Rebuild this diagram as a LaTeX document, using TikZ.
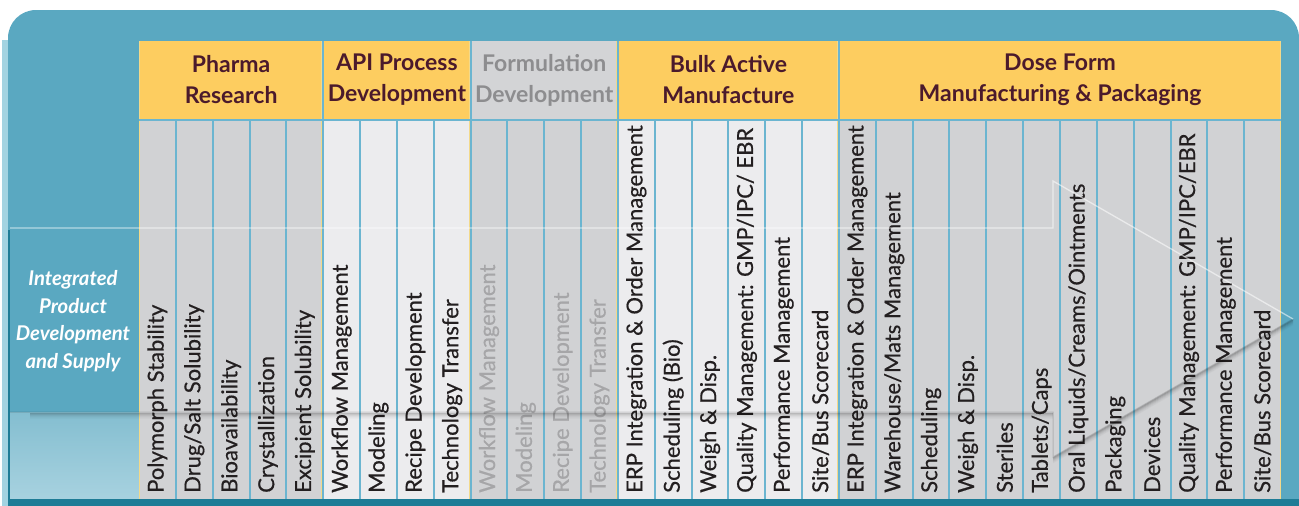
\documentclass[tikz,border=0pt]{standalone}
\usepackage{fontspec}
\setmainfont{Lato}
\newfontfamily\colfont[FakeBold=0.5]{Lato}
\definecolor{bgblue}{HTML}{5AA8C1}
\definecolor{darkteal}{HTML}{1E7C96}
\definecolor{lightstrip}{HTML}{A3D3E1}
\definecolor{hdryellow}{HTML}{FDCD60}
\definecolor{hdrtext}{HTML}{4B1A2C}
\definecolor{colgray}{HTML}{D1D2D4}
\definecolor{collight}{HTML}{ECECEE}
\definecolor{divblue}{HTML}{6BB5D0}
\definecolor{gridyellow}{HTML}{F3D98A}
\definecolor{formhdr}{HTML}{D3D4D6}
\definecolor{formhtext}{HTML}{8D8D8F}
\definecolor{formtext}{HTML}{A6A6A8}
\definecolor{coltext}{HTML}{231F20}
\definecolor{lowtop}{HTML}{7FBBCE}
\definecolor{lowbot}{HTML}{B9DCE7}
\definecolor{shadowc}{HTML}{4F8699}
\pgfdeclareverticalshading{lowleft}{100bp}{color(0bp)=(lowbot); color(82bp)=(lowtop); color(96bp)=(shadowc); color(100bp)=(shadowc)}
\begin{document}
\begin{tikzpicture}[x=1pt,y=-1pt,
  hdrlabel/.style={align=center, text=hdrtext, font=\fontsize{23}{31}\selectfont\bfseries, inner sep=0pt},
  collabel/.style={rotate=90, anchor=west, inner sep=0pt, font=\colfont\fontsize{22}{24}\selectfont},
  divline/.style={divblue, line width=2pt},
  grpline/.style={gridyellow, line width=1pt}]
\useasboundingbox (0,0) rectangle (1299,506);
% background panel
\fill[lightstrip] (2,40) rectangle (10,506);
\fill[bgblue] (8,506) -- (8,38) arc[start angle=180, end angle=270, radius=28] -- (1271,10) arc[start angle=270, end angle=360, radius=28] -- (1299,506) -- cycle;
\shade[shading=lowleft] (10,412) rectangle (139,499);
\fill[darkteal] (8,499) rectangle (1299,506);
\draw[darkteal, line width=2pt] (9,230) -- (9,506);
% column group fills
\fill[colgray]  (139,120) rectangle (323.2,499);
\fill[collight] (323.2,120) rectangle (470.56,499);
\fill[colgray]  (470.56,120) rectangle (617.92,499);
\fill[collight] (617.92,120) rectangle (838.96,499);
\fill[colgray]  (838.96,120) rectangle (1281.04,499);
% headers
\fill[hdryellow] (139,41) rectangle (1281.04,120);
\fill[formhdr] (470.56,41) rectangle (617.92,120);
% column dividers
\foreach \k in {1,...,30}{
  \draw[divline] ({139+36.84*\k},120) -- ({139+36.84*\k},499);
}
\foreach \gx in {323.2,470.56,617.92,838.96}{
  \draw[divline] (\gx,41) -- (\gx,120);
  \draw[grpline] (\gx-1.5,41) -- (\gx-1.5,499);
}
\draw[grpline] (139.5,41) -- (139.5,499);
\draw[grpline] (1280.5,41) -- (1280.5,499);
\draw[divline] (139,120) -- (1281.04,120);
% header labels
\node[hdrlabel] (h1) at (231.1,80) {Pharma\\Research};
\node[hdrlabel] (h2) at (396.9,80) {API Process\\Development};
\node[hdrlabel, text=formhtext] (h3) at (544.2,80) {Formulation\\Development};
\node[hdrlabel] (h4) at (728.4,80) {Bulk Active\\Manufacture};
\node[hdrlabel] (h5) at (1060,80) {Dose Form\\Manufacturing \& Packaging};
% column labels
\foreach \t [count=\i from 0] in {
  {Polymorph Stability},{Drug/Salt Solubility},{Bioavailability},{Crystallization},{Excipient Solubility},
  {Workflow Management},{Modeling},{Recipe Development},{Technology Transfer},
  {Workflow Management},{Modeling},{Recipe Development},{Technology Transfer},
  {ERP Integration \& Order Management},{Scheduling (Bio)},{Weigh \& Disp.},{Quality Management: GMP/IPC/ EBR},{Performance Management},{Site/Bus Scorecard},
  {ERP Integration \& Order Management},{Warehouse/Mats Management},{Scheduling},{Weigh \& Disp.},{Steriles},{Tablets/Caps},{Oral Liquids/Creams/Ointments},{Packaging},{Devices},{Quality Management: GMP/IPC/EBR},{Performance Management},{Site/Bus Scorecard}}{
  \pgfmathsetmacro{\cx}{157.42+36.84*\i}
  \ifnum\i>8 \ifnum\i<13 \def\tc{formtext}\else\def\tc{coltext}\fi\else\def\tc{coltext}\fi
  \node[collabel, text=\tc] (c\i) at (\cx,493) {\t};
}
% side label
\node[align=center, text=white, inner sep=0pt, font=\fontsize{20.3}{27.5}\selectfont\bfseries\itshape] (side) at (73,321) {Integrated\\Product\\Development\\and Supply};
% arrow overlay
\foreach \s/\o in {1/0.22,2/0.16,3/0.11,4/0.07,5/0.04,6/0.02}{
  \draw[black, opacity=\o, line width=1pt] (30,{412+\s}) -- (1053,{412+\s});
  \draw[black, opacity=\o, line width=1pt] (1053,{457+\s}) -- (1293,{319+\s});
}
\draw[black, opacity=0.15, line width=1pt] (1293,319) -- (1053,457) -- (1053,412) -- (10,412);
\draw[white, opacity=0.55, line width=1.3pt] (10,228) -- (1053,228) -- (1053,181) -- (1293,319);
\end{tikzpicture}
\end{document}
